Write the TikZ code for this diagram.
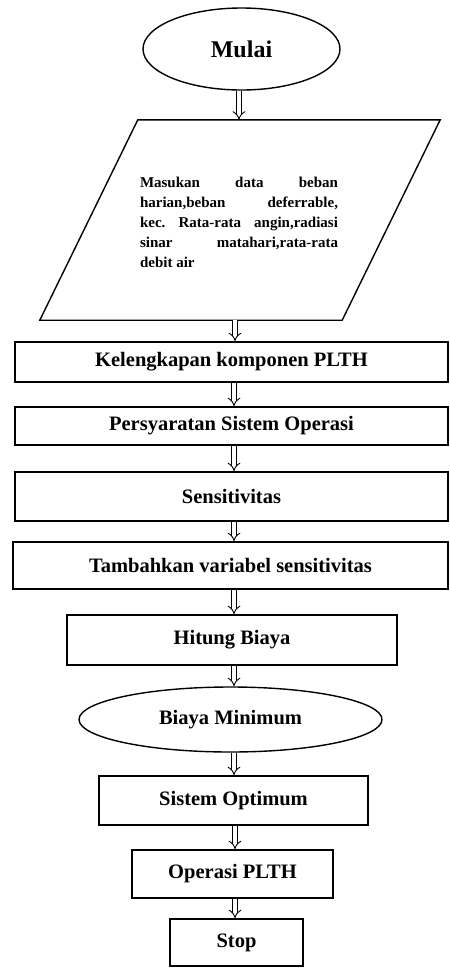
\documentclass[tikz,border=0pt]{standalone}
\usepackage{fontspec}
\setmainfont{Liberation Serif}
\usetikzlibrary{shapes.geometric,arrows.meta}
\tikzset{
  x=1pt, y=-1pt,
  box/.style={draw, line width=1.4pt, rectangle, inner sep=0pt,
    font=\bfseries\fontsize{20.5}{24}\selectfont},
  oval/.style={draw, line width=1.4pt, ellipse, inner sep=0pt,
    font=\bfseries\fontsize{20.5}{24}\selectfont},
  arr/.style={double, double distance=3.6pt, line width=0.9pt, -{Implies}},
  outline/.style={draw, line width=1.4pt, line join=miter}
}
\newcommand{\jline}[1]{\makebox[198pt][l]{#1}}
\begin{document}
\begin{tikzpicture}
\useasboundingbox[fill=white] (0,0) rectangle (450,970);
\coordinate (ax) at (234,0);
\coordinate (ax1) at (239,0);
\coordinate (ax2) at (235,0);
\node[oval, minimum width=197pt, minimum height=82pt, font=\bfseries\fontsize{24}{28}\selectfont] (mulai) at (241.5,49) {Mulai};
\node[inner sep=0pt, minimum width=302pt, minimum height=200pt] (para) at (240,220) {};
\draw[outline] ([xshift=49pt]para.north west) -- ([xshift=49pt]para.north east)
  -- ([xshift=-49pt]para.south east) -- ([xshift=-49pt]para.south west) -- cycle;
\node[inner sep=0pt, align=left, font=\bfseries\fontsize{15}{20}\selectfont] (ptext) at (239,222)
 {\jline{Masukan\hfill data\hfill beban}\\
  \jline{harian,beban\hfill deferrable,}\\
  \jline{kec.\hfill Rata-rata\hfill angin,radiasi}\\
  \jline{sinar\hfill matahari,rata-rata}\\
  \jline{debit air}};
\node[box, minimum width=433pt, minimum height=40pt] (kel) at (231.5,362) {Kelengkapan komponen PLTH};
\node[box, minimum width=433pt, minimum height=38pt] (per) at (231.5,426) {Persyaratan Sistem Operasi};
\node[box, minimum width=433pt, minimum height=49pt] (sen) at (231.5,496.5) {Sensitivitas};
\node[box, minimum width=435pt, minimum height=47pt] (tam) at (230.5,565.5) {Tambahkan variabel sensitivitas};
\node[box, minimum width=330pt, minimum height=50pt] (hit) at (232,640) {Hitung Biaya};
\node[oval, minimum width=303pt, minimum height=65pt] (bia) at (230.5,719.5) {Biaya Minimum};
\node[box, minimum width=269pt, minimum height=49pt] (sis) at (233.5,800.5) {Sistem Optimum};
\node[box, minimum width=201pt, minimum height=48pt] (ope) at (232.5,874) {Operasi PLTH};
\node[box, minimum width=133pt, minimum height=47pt] (stop) at (236.5,942.5) {Stop};
\draw[arr] (mulai.south -| ax1) -- (para.north -| ax1);
\draw[arr] (para.south -| ax2) -- (kel.north -| ax2);
\draw[arr] (kel.south -| ax) -- (per.north -| ax);
\draw[arr] (per.south -| ax) -- (sen.north -| ax);
\draw[arr] (sen.south -| ax) -- (tam.north -| ax);
\draw[arr] (tam.south -| ax) -- (hit.north -| ax);
\draw[arr] (hit.south -| ax) -- (bia.north -| ax);
\draw[arr] (bia.south -| ax) -- (sis.north -| ax);
\draw[arr] (sis.south -| ax2) -- (ope.north -| ax2);
\draw[arr] (ope.south -| ax2) -- (stop.north -| ax2);
\end{tikzpicture}
\end{document}
